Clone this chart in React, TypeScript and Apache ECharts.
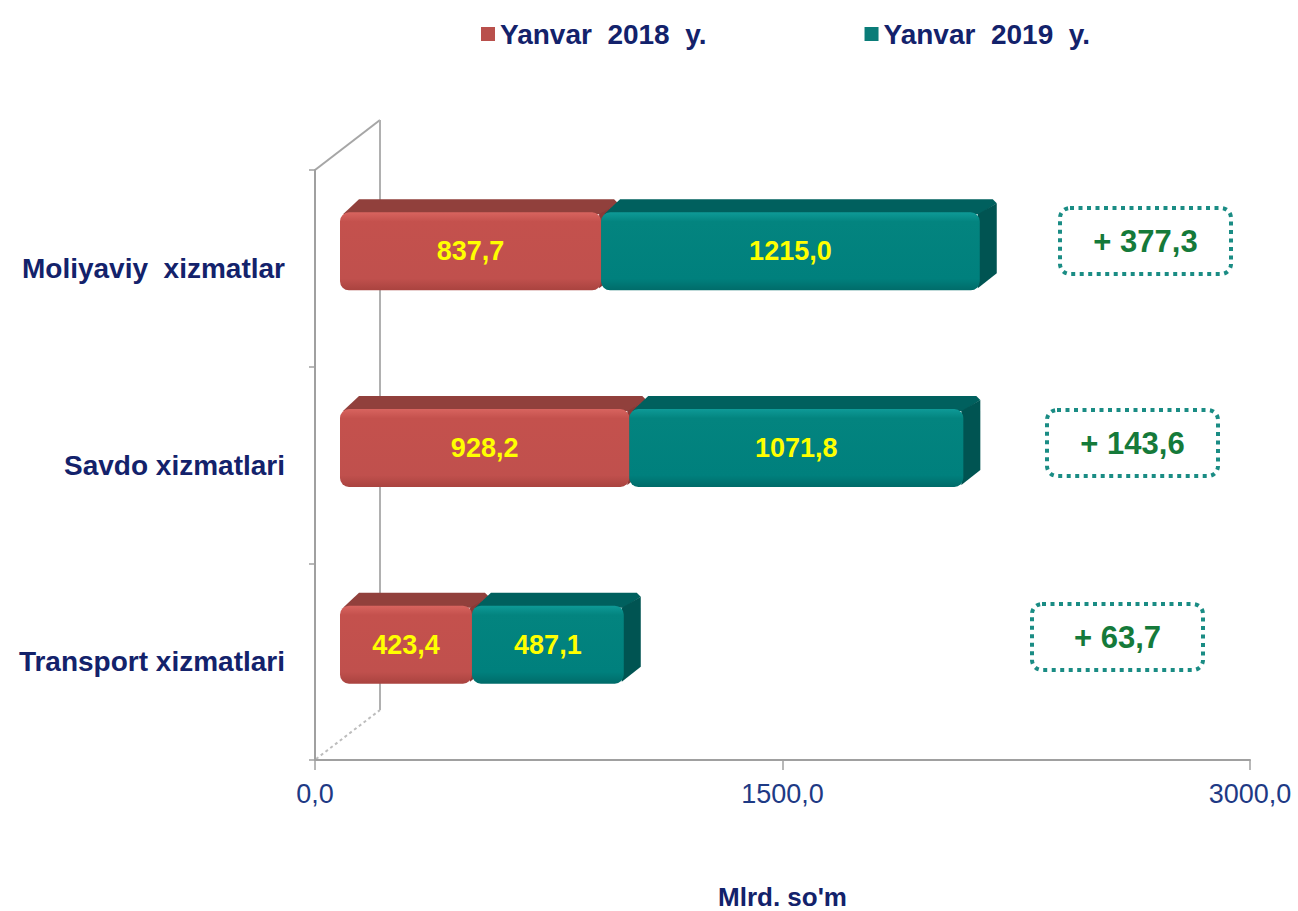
import React, { useEffect, useRef } from "react";
import * as echarts from "echarts";

const categories = ["Transport xizmatlari", "Savdo xizmatlari", "Moliyaviy  xizmatlar"];
const seriesNames = ["Yanvar  2018  y.", "Yanvar  2019  y."];
const values2018 = [423.4, 928.2, 837.7];
const values2019 = [487.1, 1071.8, 1215.0];
const xTicks = [0, 1500, 3000];
const axisName = "Mlrd. so'm";

const FONT = '"Liberation Sans", Arial, sans-serif';
const NAVY = "#13226B";
const fmt = (v: number) => v.toFixed(1).replace(".", ",");

const diffs = values2019.map((v, i) => +(v - values2018[i]).toFixed(1));

// box geometry (styles only), bottom-to-top order matching categories
const boxPos = [
  { x: 1032, y: 604 },
  { x: 1047, y: 410 },
  { x: 1060, y: 208 },
];

const palettes = [
  {
    front: ["#D8645F", "#C4514D", "#C0504D", "#A9433F"],
    top: "#91403C",
    side: "#8A3936",
    legend: "#B9504C",
  },
  {
    front: ["#0E9A97", "#03847F", "#00807D", "#006B69"],
    top: "#00605E",
    side: "#005452",
    legend: "#0A7C78",
  },
];

function makeRenderItem(si: number) {
  const pal = palettes[si];
  return (params: any, api: any) => {
    const start = api.value(0);
    const end = api.value(1);
    const cat = api.value(2);
    const p0 = api.coord([start, cat]);
    const p1 = api.coord([end, cat]);
    const ox = 25;
    const oy = -17;
    const h = 78;
    const dx = 17;
    const dy = -13;
    const xL = p0[0] + ox;
    const xR = p1[0] + ox;
    const yT = p0[1] + oy - h / 2;
    const yB = yT + h;
    const w = xR - xL;
    const label = api.value(3);
    return {
      type: "group",
      children: [
        {
          type: "polygon",
          shape: {
            points: [
              [xL + 3, yT + 2],
              [xL + dx + 2, yT + dy],
              [xR + dx - 4, yT + dy],
              [xR + dx, yT + dy + 4],
              [xR, yT + 2],
            ],
          },
          style: { fill: pal.top },
        },
        {
          type: "polygon",
          shape: {
            points: [
              [xR - 2, yT + 2],
              [xR + dx, yT + dy + 4],
              [xR + dx, yB + dy - 4],
              [xR - 2, yB - 2],
            ],
          },
          style: { fill: pal.side },
        },
        {
          type: "rect",
          shape: { x: xL, y: yT, width: w, height: h, r: 9 },
          style: {
            fill: new echarts.graphic.LinearGradient(0, 0, 0, 1, [
              { offset: 0, color: pal.front[0] },
              { offset: 0.12, color: pal.front[1] },
              { offset: 0.85, color: pal.front[2] },
              { offset: 1, color: pal.front[3] },
            ]),
          },
        },
        {
          type: "text",
          x: xL + w / 2,
          y: yT + h / 2,
          style: {
            text: fmt(label),
            fill: "#FFFF00",
            fontSize: 27,
            fontWeight: "bold",
            fontFamily: FONT,
            align: "center",
            verticalAlign: "middle",
          },
        },
      ],
    };
  };
}

export default function App() {
  const ref = useRef<HTMLDivElement>(null);
  useEffect(() => {
    if (!ref.current) return;
    const chart = echarts.init(ref.current, undefined, { renderer: "svg" });

    const data2018 = values2018.map((v, i) => [0, v, i, v]);
    const data2019 = values2019.map((v, i) => [values2018[i], values2018[i] + v, i, v]);

    const graphics: any[] = [
      {
        type: "line",
        z: 0,
        shape: { x1: 315, y1: 170, x2: 380, y2: 120 },
        style: { stroke: "#A6A6A6", lineWidth: 2 },
      },
      {
        type: "line",
        z: 0,
        shape: { x1: 380, y1: 120, x2: 380, y2: 710 },
        style: { stroke: "#B0B0B0", lineWidth: 2 },
      },
      {
        type: "line",
        z: 0,
        shape: { x1: 316, y1: 759, x2: 380, y2: 710 },
        style: { stroke: "#BDBDBD", lineWidth: 2, lineDash: [3, 3] },
      },
    ];
    diffs.forEach((d, i) => {
      const b = boxPos[i];
      graphics.push({
        type: "rect",
        z: 10,
        shape: { x: b.x, y: b.y, width: 171, height: 66, r: 10 },
        style: {
          fill: "#FFFFFF",
          stroke: "#1A8C84",
          lineWidth: 4,
          lineDash: [4, 4.5],
        },
      });
      graphics.push({
        type: "text",
        z: 11,
        x: b.x + 171 / 2,
        y: b.y + 33,
        style: {
          text: "+ " + fmt(d),
          fill: "#157A3A",
          fontSize: 31,
          fontWeight: "bold",
          fontFamily: FONT,
          align: "center",
          verticalAlign: "middle",
        },
      });
    });

    chart.setOption({
      animation: false,
      backgroundColor: "#FFFFFF",
      legend: {
        left: 476,
        top: 15,
        itemWidth: 14,
        itemHeight: 14,
        itemGap: 158,
        icon: "rect",
        data: seriesNames.map((n, i) => ({ name: n, itemStyle: { color: palettes[i].legend } })),
        textStyle: { color: NAVY, fontSize: 28, fontWeight: "bold", fontFamily: FONT },
      },
      grid: {
        left: 315,
        right: 48,
        top: 170,
        bottom: 151,
        containLabel: false,
        outerBoundsMode: "none",
      },
      xAxis: {
        type: "value",
        min: xTicks[0],
        max: xTicks[xTicks.length - 1],
        interval: xTicks[1] - xTicks[0],
        splitLine: { show: false },
        axisLine: { show: true, lineStyle: { color: "#A0A0A0", width: 2 } },
        axisTick: { show: true, length: 10, lineStyle: { color: "#A0A0A0", width: 1.5 } },
        axisLabel: {
          margin: 20,
          color: "#1E3A85",
          fontSize: 27,
          fontFamily: FONT,
          formatter: (v: number) => fmt(v),
        },
        name: axisName,
        nameLocation: "middle",
        nameGap: 124,
        nameTextStyle: { color: NAVY, fontSize: 26, fontWeight: "bold", fontFamily: FONT },
      },
      yAxis: {
        type: "category",
        data: categories,
        axisLine: { show: true, lineStyle: { color: "#A0A0A0", width: 2 } },
        axisTick: { show: true, length: 6, lineStyle: { color: "#A0A0A0", width: 1.5 } },
        axisLabel: {
          margin: 30,
          color: NAVY,
          fontSize: 28,
          fontWeight: "bold",
          fontFamily: FONT,
        },
      },
      graphic: graphics,
      series: [
        {
          name: seriesNames[0],
          type: "custom",
          renderItem: makeRenderItem(0),
          encode: { x: [0, 1], y: 2 },
          itemStyle: { color: palettes[0].legend },
          data: data2018,
          z: 2,
        },
        {
          name: seriesNames[1],
          type: "custom",
          renderItem: makeRenderItem(1),
          encode: { x: [0, 1], y: 2 },
          itemStyle: { color: palettes[1].legend },
          data: data2019,
          z: 3,
        },
      ],
    });
    return () => chart.dispose();
  }, []);
  return (
    <div
      ref={ref}
      style={{ position: "absolute", left: 0, top: 0, width: 1298, height: 911 }}
    />
  );
}
